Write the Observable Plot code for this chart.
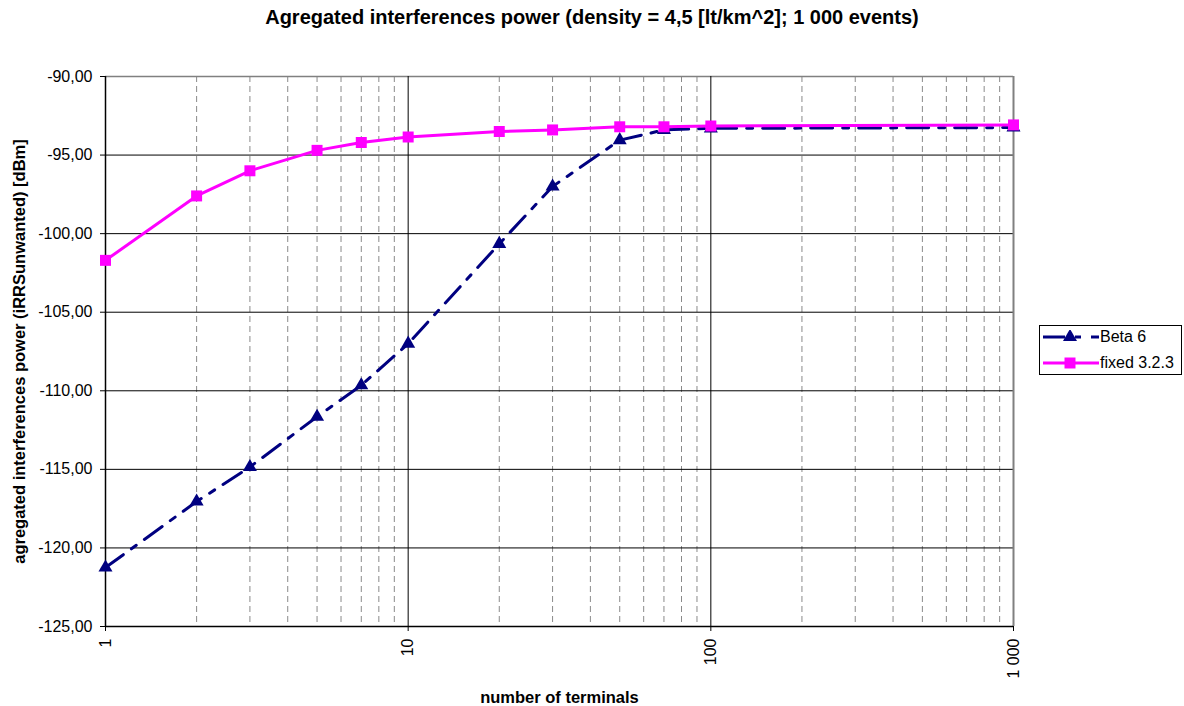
<!DOCTYPE html>
<html>
<head>
<meta charset="utf-8">
<script src="https://cdn.jsdelivr.net/npm/d3@7"></script>
<script src="https://cdn.jsdelivr.net/npm/@observablehq/plot@0.6"></script>
<style>
  body { margin: 0; background: #fff; font-family: "Liberation Sans", Arial, sans-serif; }
  #wrap { position: relative; width: 1184px; height: 706px; overflow: hidden; }
  #title { position: absolute; top: 6px; left: 0; width: 1184px; text-align: center;
           font-weight: bold; font-size: 20px; color: #000; }
  #legend { position: absolute; left: 1039px; top: 325px; width: 143px; height: 50px;
            border: 1px solid #000; box-sizing: border-box; background: #fff; }
  .lrow { position: absolute; left: 3px; height: 18px; display: flex; align-items: center;
          font-size: 16px; color: #000; white-space: nowrap; }
  .lrow svg { margin-right: 1px; }
  #chart svg { position: absolute; left: 0; top: 0; font-family: "Liberation Sans", Arial, sans-serif; }
  #chart [aria-label="x-axis label"] text, #chart [aria-label="y-axis label"] text { font-weight: bold; font-size: 16.5px; }
</style>
</head>
<body>
<div id="wrap">
  <div id="chart"></div>
  <div id="title">Agregated interferences power (density = 4,5 [lt/km^2]; 1 000 events)</div>
  <div id="legend"></div>
</div>
<script>
// ---- data ----
const terminals = [1, 2, 3, 5, 7, 10, 20, 30, 50, 70, 100, 1000];
const beta6     = [-121.25, -117.05, -114.85, -111.65, -109.65, -107.0, -100.65, -97.0, -94.05, -93.4, -93.3, -93.25];
const fixed323  = [-101.7, -97.6, -96.0, -94.7, -94.2, -93.85, -93.5, -93.4, -93.2, -93.2, -93.15, -93.08];
const seriesNames = ["Beta 6", "fixed 3.2.3"];
const seriesColors = ["#000080", "#ff00ff"];
const xTicks = [1, 10, 100, 1000];
const xMinor = [2, 3, 4, 5, 6, 7, 8, 9, 20, 30, 40, 50, 60, 70, 80, 90, 200, 300, 400, 500, 600, 700, 800, 900];
const yTicks = [-125, -120, -115, -110, -105, -100, -95, -90];
const xLabel = "number of terminals";
const yLabel = "agregated interferences power (iRRSunwanted) [dBm]";

const betaRows = terminals.map((t, i) => ({terminals: t, value: beta6[i], series: seriesNames[0]}));
const fixedRows = terminals.map((t, i) => ({terminals: t, value: fixed323[i], series: seriesNames[1]}));

const xFmt = d => d >= 1000 ? String(d).replace(/\B(?=(\d{3})+(?!\d))/g, " ") : String(d);
const yFmt = d => d.toFixed(2).replace(".", ",");

const chart = Plot.plot({
  width: 1184,
  height: 706,
  marginLeft: 105,
  marginRight: 171,
  marginTop: 76,
  marginBottom: 80,
  style: {background: "transparent", fontFamily: "Liberation Sans, Arial, sans-serif", fontSize: "16px", color: "#000"},
  x: {type: "log", domain: [1, 1000]},
  y: {domain: [-125, -90]},
  marks: [
    Plot.ruleX(xMinor, {stroke: "#8a8a8a", strokeWidth: 1, strokeDasharray: "6,4"}),
    Plot.ruleY(yTicks.filter(v => v > -125 && v < -90), {stroke: "#000", strokeWidth: 1}),
    Plot.ruleY([-90], {stroke: "#808080", strokeWidth: 1.5}),
    Plot.ruleX([10, 100], {stroke: "#000", strokeWidth: 1}),
    Plot.ruleX([1000], {stroke: "#808080", strokeWidth: 2}),
    Plot.ruleX([1], {stroke: "#000", strokeWidth: 1.5}),
    Plot.ruleY([-125], {stroke: "#000", strokeWidth: 1.5}),
    Plot.line(betaRows, {x: "terminals", y: "value", stroke: seriesColors[0], strokeWidth: 3, strokeDasharray: "22,10,6,10"}),
    Plot.dot(betaRows, {x: "terminals", y: "value", symbol: "triangle", fill: seriesColors[0], r: 5.2}),
    Plot.line(fixedRows, {x: "terminals", y: "value", stroke: seriesColors[1], strokeWidth: 3}),
    Plot.dot(fixedRows, {x: "terminals", y: "value", symbol: "square", fill: seriesColors[1], r: 6.2}),
    Plot.axisX({ticks: xTicks, tickFormat: xFmt, tickRotate: -90, tickSize: 5, tickPadding: 7,
                fontSize: 16, label: xLabel, labelAnchor: "center", labelOffset: 76, labelArrow: "none"}),
    Plot.axisY({ticks: yTicks, tickFormat: yFmt, tickSize: 5, tickPadding: 8,
                fontSize: 16, label: yLabel, labelAnchor: "center", labelOffset: 92, labelArrow: "none"})
  ]
});
document.getElementById("chart").appendChild(chart);

// ---- legend ----
const legend = document.getElementById("legend");
seriesNames.forEach((name, i) => {
  const row = document.createElement("div");
  row.className = "lrow";
  row.style.top = (2 + i * 26) + "px";
  const ns = "http://www.w3.org/2000/svg";
  const sw = document.createElementNS(ns, "svg");
  sw.setAttribute("width", 56); sw.setAttribute("height", 14);
  const ln = document.createElementNS(ns, "line");
  ln.setAttribute("x1", 0); ln.setAttribute("x2", 56); ln.setAttribute("y1", 7); ln.setAttribute("y2", 7);
  ln.setAttribute("stroke", seriesColors[i]); ln.setAttribute("stroke-width", 3);
  if (i === 0) ln.setAttribute("stroke-dasharray", "22,10,6,10");
  sw.appendChild(ln);
  const sym = document.createElementNS(ns, "path");
  const sz = i === 0 ? Math.PI * 5.2 * 5.2 : Math.PI * 6.2 * 6.2;
  sym.setAttribute("d", d3.symbol(i === 0 ? d3.symbolTriangle : d3.symbolSquare, sz)());
  sym.setAttribute("transform", "translate(27,7)");
  sym.setAttribute("fill", seriesColors[i]);
  sw.appendChild(sym);
  row.appendChild(sw);
  const tx = document.createElement("span");
  tx.textContent = name;
  row.appendChild(tx);
  legend.appendChild(row);
});
</script>
</body>
</html>
